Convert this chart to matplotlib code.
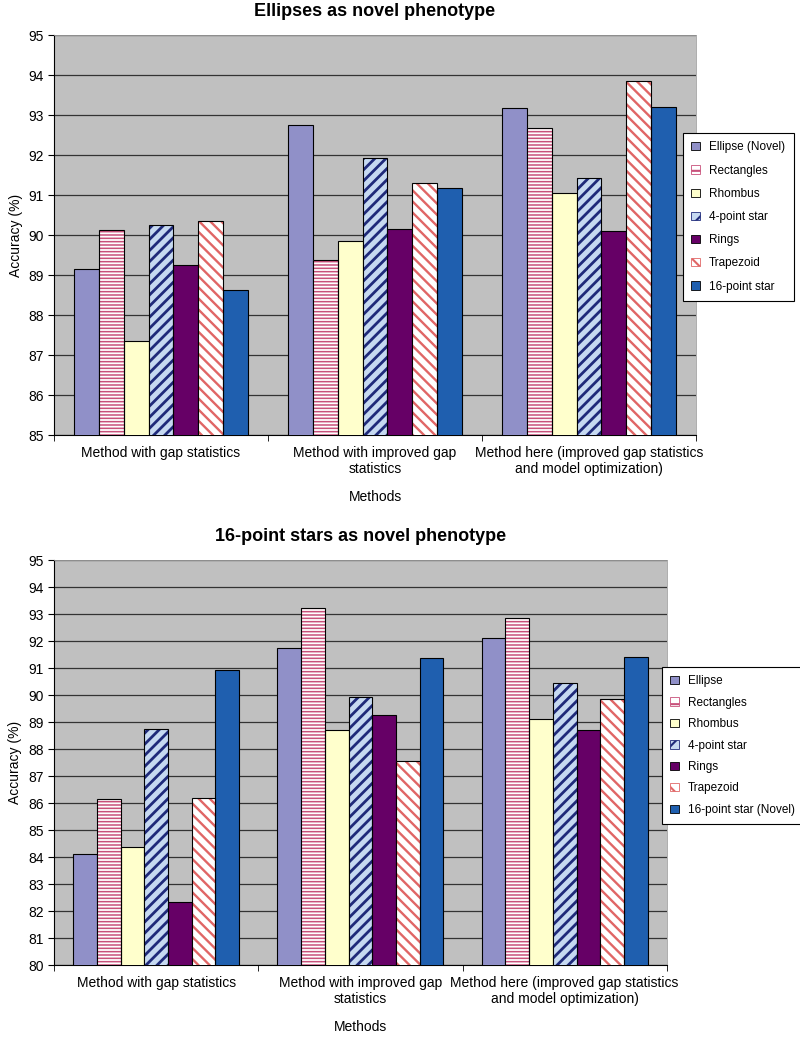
import matplotlib
matplotlib.use('Agg')
import matplotlib.pyplot as plt
from matplotlib.patches import Patch
import numpy as np

plt.rcParams['font.family'] = ['Liberation Sans', 'DejaVu Sans']
plt.rcParams['hatch.linewidth'] = 1.5

methods = ['Method with gap statistics',
           'Method with improved gap\nstatistics',
           'Method here (improved gap statistics\nand model optimization)']

labels_top = ['Ellipse (Novel)', 'Rectangles', 'Rhombus', '4-point star',
              'Rings', 'Trapezoid', '16-point star']
labels_bot = ['Ellipse', 'Rectangles', 'Rhombus', '4-point star',
              'Rings', 'Trapezoid', '16-point star (Novel)']

# accuracy per shape, one value per method
ellipse_top   = [89.15, 92.76, 93.17]
rect_top      = [90.13, 89.37, 92.68]
rhombus_top   = [87.34, 89.85, 91.04]
star4_top     = [90.25, 91.93, 91.43]
rings_top     = [89.25, 90.15, 90.10]
trap_top      = [90.36, 91.31, 93.86]
star16_top    = [88.63, 91.17, 93.20]

ellipse_bot   = [84.13, 91.75, 92.13]
rect_bot      = [86.15, 93.24, 92.87]
rhombus_bot   = [84.38, 88.70, 89.13]
star4_bot     = [88.75, 89.92, 90.45]
rings_bot     = [82.34, 89.26, 88.71]
trap_bot      = [86.17, 87.57, 89.86]
star16_bot    = [90.91, 91.39, 91.41]

# (face, hatch colour, hatch, hatch linewidth)
styles = [
    ('#9090C8', None, None, 0),
    ('white', '#C8507A', '-----', 1.1),
    ('#FFFFCC', None, None, 0),
    ('#C6D9F1', '#1F2A7A', '///', 2.0),
    ('#660066', None, None, 0),
    ('white', '#E06666', '\\\\\\', 1.7),
    ('#1F5FAF', None, None, 0),
]

fig = plt.figure(figsize=(8, 10.4), dpi=100)


def draw(ax, series, labels, ymin, title, legend_pos, labelspacing):
    x = np.arange(len(methods))
    w = 0.116
    for i, (vals, (face, hc, hatch, hlw)) in enumerate(zip(series, styles)):
        pos = x + (i - 3) * w
        if hatch:
            with plt.rc_context({'hatch.linewidth': hlw}):
                bars = ax.bar(pos, vals, w, color=face, edgecolor=hc,
                              hatch=hatch, linewidth=0, zorder=3)
            for b in bars:
                if hasattr(b, 'set_hatch_linewidth'):
                    b.set_hatch_linewidth(hlw)
            ax.bar(pos, vals, w, fill=False, edgecolor='black',
                   linewidth=0.8, zorder=4)
        else:
            ax.bar(pos, vals, w, color=face, edgecolor='black',
                   linewidth=0.8, zorder=3)
    ax.set_facecolor('#C0C0C0')
    ax.set_xlim(-0.5, 2.5)
    ax.set_ylim(ymin, 95)
    ax.set_yticks(range(ymin, 96))
    ax.yaxis.grid(True, color='#333333', linewidth=0.9, zorder=1)
    ax.set_axisbelow(True)
    ax.set_xticks(x)
    ax.set_xticklabels(methods, fontsize=10, linespacing=1.2)
    ax.tick_params(axis='x', which='major', length=0, pad=8)
    ax.set_xticks([-0.5, 0.5, 1.5, 2.5], minor=True)
    ax.tick_params(axis='x', which='minor', length=4, color='black')
    ax.tick_params(axis='y', labelsize=10, length=4)
    for s in ['top', 'right']:
        ax.spines[s].set_color('#A0A0A0')
        ax.spines[s].set_linewidth(0.6)
    ax.set_xlabel('Methods', fontsize=10, labelpad=10)
    ax.set_ylabel('Accuracy (%)', fontsize=10, labelpad=4)
    ax.set_title(title, fontsize=13, fontweight='bold', pad=14)
    handles = []
    for f, hc, h, hlw in styles:
        with plt.rc_context({'hatch.linewidth': 1.0}):
            handles.append(Patch(facecolor=f, edgecolor=(hc if hc else 'black'),
                                 hatch=(h[:2] if h else None), linewidth=0.6))
    leg = fig.legend(handles, labels, loc='upper left', bbox_to_anchor=legend_pos,
                     fontsize=8.5, frameon=True, fancybox=False, framealpha=1,
                     edgecolor='black', handlelength=0.7, handleheight=0.7,
                     handletextpad=0.8, labelspacing=labelspacing,
                     borderpad=0.7, borderaxespad=0)
    leg.get_frame().set_linewidth(0.8)


ax1 = fig.add_axes([0.0675, 0.5817, 0.8025, 0.3846])
draw(ax1, [ellipse_top, rect_top, rhombus_top, star4_top, rings_top,
           trap_top, star16_top], labels_top, 85,
     'Ellipses as novel phenotype', (0.854, 0.872), 0.95)

ax2 = fig.add_axes([0.0675, 0.0721, 0.766, 0.3894])
draw(ax2, [ellipse_bot, rect_bot, rhombus_bot, star4_bot, rings_bot,
           trap_bot, star16_bot], labels_bot, 80,
     '16-point stars as novel phenotype', (0.8275, 0.3587), 0.8)

fig.savefig('out.png', dpi=100)
